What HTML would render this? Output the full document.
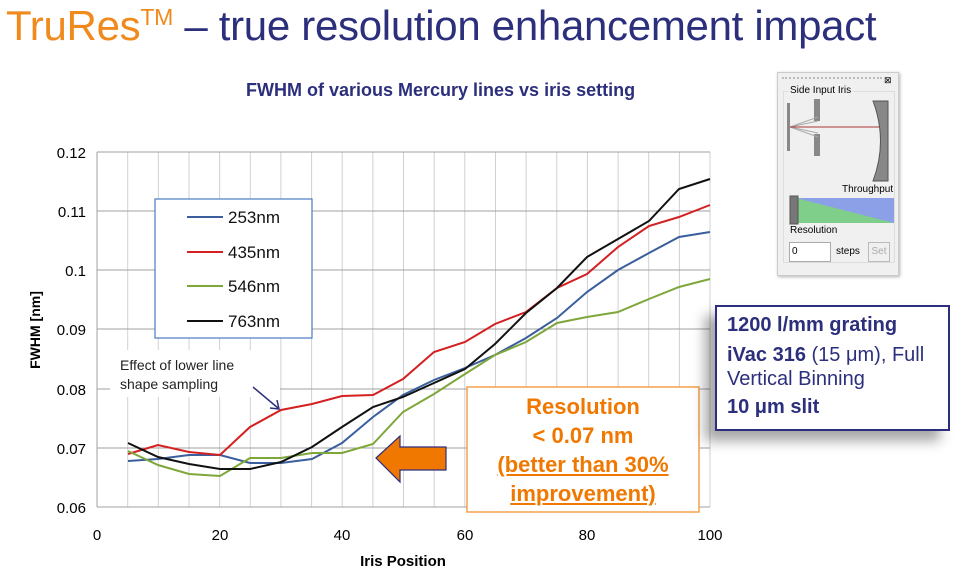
<!DOCTYPE html>
<html><head><meta charset="utf-8"><style>
body{margin:0;width:961px;height:570px;background:#fff;overflow:hidden;font-family:"Liberation Sans",sans-serif;position:relative}
.a{position:absolute}
</style></head><body>
<div class="a" style="left:6px;top:2px;font-size:42px;color:#f08a1c;white-space:nowrap;letter-spacing:-0.3px">TruRes<sup style="font-size:23px;vertical-align:top;position:relative;top:2px">TM</sup><span style="color:#2c2f7c"> – true resolution enhancement impact</span></div>
<div class="a" style="left:246px;top:80px;font-size:18px;font-weight:bold;color:#2c2f7c">FWHM of various Mercury lines vs iris setting</div>
<svg class="a" style="left:0;top:0" width="961" height="570">
<g stroke="#d0d0d0" stroke-width="1">
<line x1="127.7" y1="152" x2="127.7" y2="507"/><line x1="158.3" y1="152" x2="158.3" y2="507"/><line x1="189" y1="152" x2="189" y2="507"/><line x1="219.6" y1="152" x2="219.6" y2="507"/><line x1="250.3" y1="152" x2="250.3" y2="507"/><line x1="280.9" y1="152" x2="280.9" y2="507"/><line x1="311.6" y1="152" x2="311.6" y2="507"/><line x1="342.2" y1="152" x2="342.2" y2="507"/><line x1="372.9" y1="152" x2="372.9" y2="507"/><line x1="403.5" y1="152" x2="403.5" y2="507"/><line x1="434.2" y1="152" x2="434.2" y2="507"/><line x1="464.8" y1="152" x2="464.8" y2="507"/><line x1="495.5" y1="152" x2="495.5" y2="507"/><line x1="526.1" y1="152" x2="526.1" y2="507"/><line x1="556.8" y1="152" x2="556.8" y2="507"/><line x1="587.4" y1="152" x2="587.4" y2="507"/><line x1="618.1" y1="152" x2="618.1" y2="507"/><line x1="648.7" y1="152" x2="648.7" y2="507"/><line x1="679.4" y1="152" x2="679.4" y2="507"/><line x1="710" y1="152" x2="710" y2="507"/>
</g>
<g stroke="#a0a0a0" stroke-width="1">
<line x1="97" y1="152" x2="710" y2="152"/><line x1="97" y1="211" x2="710" y2="211"/><line x1="97" y1="270" x2="710" y2="270"/><line x1="97" y1="329" x2="710" y2="329"/><line x1="97" y1="389" x2="710" y2="389"/><line x1="97" y1="448" x2="710" y2="448"/><line x1="97" y1="507" x2="710" y2="507"/>
<line x1="97" y1="152" x2="97" y2="507"/>
</g>
<g font-size="15" fill="#000" text-anchor="end">
<text x="86" y="158">0.12</text><text x="86" y="217">0.11</text><text x="86" y="276">0.1</text><text x="86" y="335">0.09</text><text x="86" y="395">0.08</text><text x="86" y="454">0.07</text><text x="86" y="513">0.06</text>
</g>
<g font-size="15" fill="#000" text-anchor="middle">
<text x="97" y="540">0</text><text x="220" y="540">20</text><text x="342" y="540">40</text><text x="465" y="540">60</text><text x="587" y="540">80</text><text x="710" y="540">100</text>
</g>
<text x="403" y="566" font-size="15" font-weight="bold" text-anchor="middle">Iris Position</text>
<text transform="translate(40,330) rotate(-90)" font-size="14" font-weight="bold" text-anchor="middle">FWHM [nm]</text>
<g fill="none" stroke-width="2">
<polyline stroke="#3a5f9c" points="128,461 158,459 189,455 220,455 250,463 281,463 312,459 342,443 373,417 403,395 434,380 465,368 495,355 526,338 557,318 587,292 618,270 649,253 679,237 710,232"/>
<polyline stroke="#d42020" points="128,454 158,445 189,452 220,455 250,427 281,410 312,404 342,396 373,395 403,379 434,352 465,342 495,324 526,312 557,288 587,274 618,247 649,226 679,217 710,205"/>
<polyline stroke="#7fa63a" points="128,451 158,465 189,474 220,476 250,458 281,458 312,453 342,453 373,444 403,412 434,394 465,374 495,355 526,342 557,323 587,317 618,312 649,299 679,287 710,279"/>
<polyline stroke="#111" points="128,443 158,457 189,464 220,469 250,469 281,462 312,447 342,427 373,407 403,397 434,383 465,369 495,344 526,313 557,288 587,257 618,239 649,221 679,189 710,179"/>
</g>
<rect x="155" y="199" width="157" height="139" fill="#fff" stroke="#4a7cc0" stroke-width="1.2"/>
<g stroke-width="2"><line x1="187" y1="217" x2="223" y2="217" stroke="#3a5f9c"/><line x1="187" y1="252" x2="223" y2="252" stroke="#d42020"/><line x1="187" y1="286" x2="223" y2="286" stroke="#7fa63a"/><line x1="187" y1="321" x2="223" y2="321" stroke="#111"/></g>
<g font-size="17" fill="#111"><text x="228" y="223">253nm</text><text x="228" y="258">435nm</text><text x="228" y="292">546nm</text><text x="228" y="327">763nm</text></g>
<rect x="110" y="350" width="170" height="47" fill="#fff"/>
<g font-size="14" fill="#222"><text x="120" y="370">Effect of lower line</text><text x="120" y="389">shape sampling</text></g>
<line x1="253" y1="387" x2="278" y2="408" stroke="#2c2f7c" stroke-width="1.5"/>
<polyline points="270,408 279,409 277,400" fill="none" stroke="#2c2f7c" stroke-width="1.5"/>
<rect x="467" y="387" width="232" height="125" fill="#fff" stroke="#f5a04a" stroke-width="1.5"/>
<polygon points="376,458 400,436 400,447 446,447 446,470 400,470 400,482" fill="#f07800" stroke="#2c2f7c" stroke-width="1.2"/>
</svg>
<div class="a" style="left:467px;top:392px;width:232px;text-align:center;color:#f07800;font-weight:bold;font-size:22px;line-height:29px">Resolution<br>&lt; 0.07 nm<br><u>(better than 30%</u><br><u>improvement)</u></div>
<div class="a" style="left:715px;top:305px;width:235px;height:126px;border:2px solid #2c2f7c;background:#fff;box-shadow:-10px 10px 12px rgba(0,0,0,0.35);color:#2c2f7c;font-size:20px;padding:0 0 0 10px;box-sizing:border-box;white-space:nowrap">
<div style="font-weight:bold;margin-top:7px">1200 l/mm grating</div>
<div style="margin-top:6px;line-height:24px"><b>iVac 316</b> (15 μm), Full<br>Vertical Binning</div>
<div style="font-weight:bold;margin-top:5px">10 μm slit</div>
</div>
<div class="a" style="left:777px;top:72px;width:120px;height:202px;background:#f0f0f0;border:1px solid #ccc;box-shadow:1px 1px 3px rgba(0,0,0,0.3);font-size:10px;color:#000">
<div class="a" style="left:4px;top:4px;width:100px;border-top:2px dotted #bbb"></div>
<div class="a" style="left:106px;top:2px;font-size:9px">⊠</div>
<div class="a" style="left:5px;top:18px;width:110px;height:170px;border:1px solid #ddd"></div>
<div class="a" style="left:10px;top:12px;background:#f0f0f0;padding:0 2px">Side Input Iris</div>
<svg class="a" style="left:0;top:0" width="120" height="200">
<rect x="9" y="30" width="3" height="48" fill="#888"/>
<rect x="36" y="26" width="6" height="22" fill="#888"/><rect x="36" y="61" width="6" height="22" fill="#888"/>
<path d="M12,54 L40,44 M12,54 L40,48 M12,54 L40,60 M12,54 L40,64" stroke="#aaa" stroke-width="1"/>
<line x1="12" y1="54" x2="105" y2="54" stroke="#a33" stroke-width="1"/>
<path d="M95,28 L110,28 L110,108 L95,108 Q110,68 95,28Z" fill="#888" stroke="#555"/>
<polygon points="18,125 116,125 116,150 18,150" fill="#8ca0e8"/>
<polygon points="18,125 116,150 18,150" fill="#7fce8a"/>
<rect x="12" y="123" width="8" height="28" fill="#777" stroke="#555"/>
</svg>
<div class="a" style="left:64px;top:111px">Throughput</div>
<div class="a" style="left:12px;top:152px">Resolution</div>
<div class="a" style="left:11px;top:169px;width:38px;height:18px;background:#fff;border:1px solid #aaa;line-height:18px;padding-left:2px">0</div>
<div class="a" style="left:58px;top:173px">steps</div>
<div class="a" style="left:90px;top:169px;width:20px;height:18px;border:1px solid #bbb;color:#aaa;text-align:center;line-height:18px">Set</div>
</div>
</body></html>
